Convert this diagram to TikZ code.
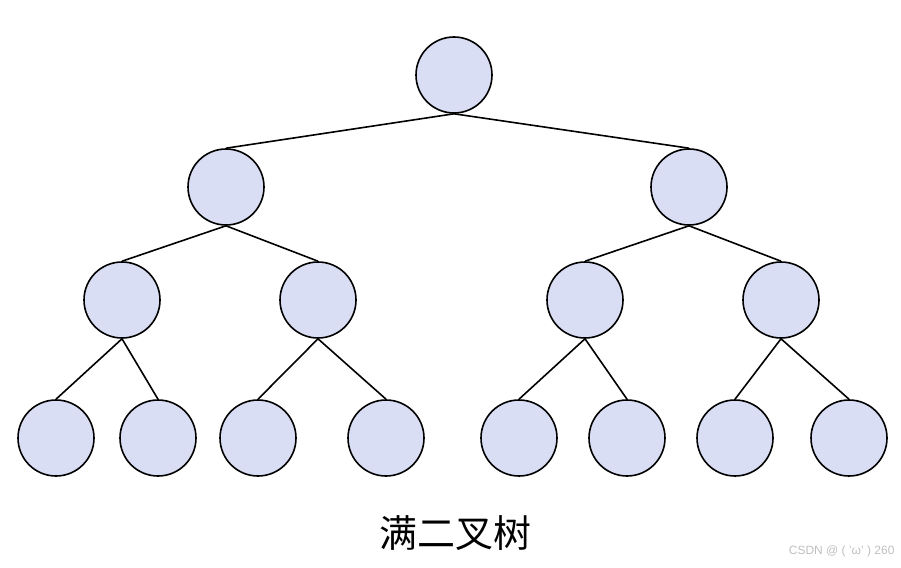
\documentclass[tikz,border=0pt]{standalone}
\usepackage{fontspec}
\newfontfamily\cjk{Noto Sans CJK SC}
\setsansfont{Liberation Sans}
\definecolor{nodefill}{RGB}{217,222,245}
\begin{document}
\begin{tikzpicture}[x=1pt,y=-1pt,
  tn/.style={circle,draw=black,line width=1.6pt,fill=nodefill,minimum size=76pt,inner sep=0pt},
  ed/.style={line width=1.6pt}]
\useasboundingbox (0,0) rectangle (901,567);
\node[tn] (r) at (454,75) {};
\node[tn] (a) at (226,187) {};
\node[tn] (b) at (689,187) {};
\node[tn] (a1) at (122,300) {};
\node[tn] (a2) at (318,300) {};
\node[tn] (b1) at (585,300) {};
\node[tn] (b2) at (781,300) {};
\node[tn] (c1) at (56,438) {};
\node[tn] (c2) at (158,438) {};
\node[tn] (c3) at (258,438) {};
\node[tn] (c4) at (386,438) {};
\node[tn] (c5) at (519,438) {};
\node[tn] (c6) at (627,438) {};
\node[tn] (c7) at (735,438) {};
\node[tn] (c8) at (849,438) {};
\foreach \p/\c in {r/a,r/b,a/a1,a/a2,b/b1,b/b2,a1/c1,a1/c2,a2/c3,a2/c4,b1/c5,b1/c6,b2/c7,b2/c8}
  \draw[ed] (\p.south) -- (\c.north);
\node (t) at (455,533) {\cjk\fontsize{38}{40}\selectfont 满二叉树};
\node[anchor=east,text=gray!50] (w) at (898,551) {\sffamily\fontsize{12}{12}\selectfont CSDN @ ( 'ω' ) 260};
\end{tikzpicture}
\end{document}
